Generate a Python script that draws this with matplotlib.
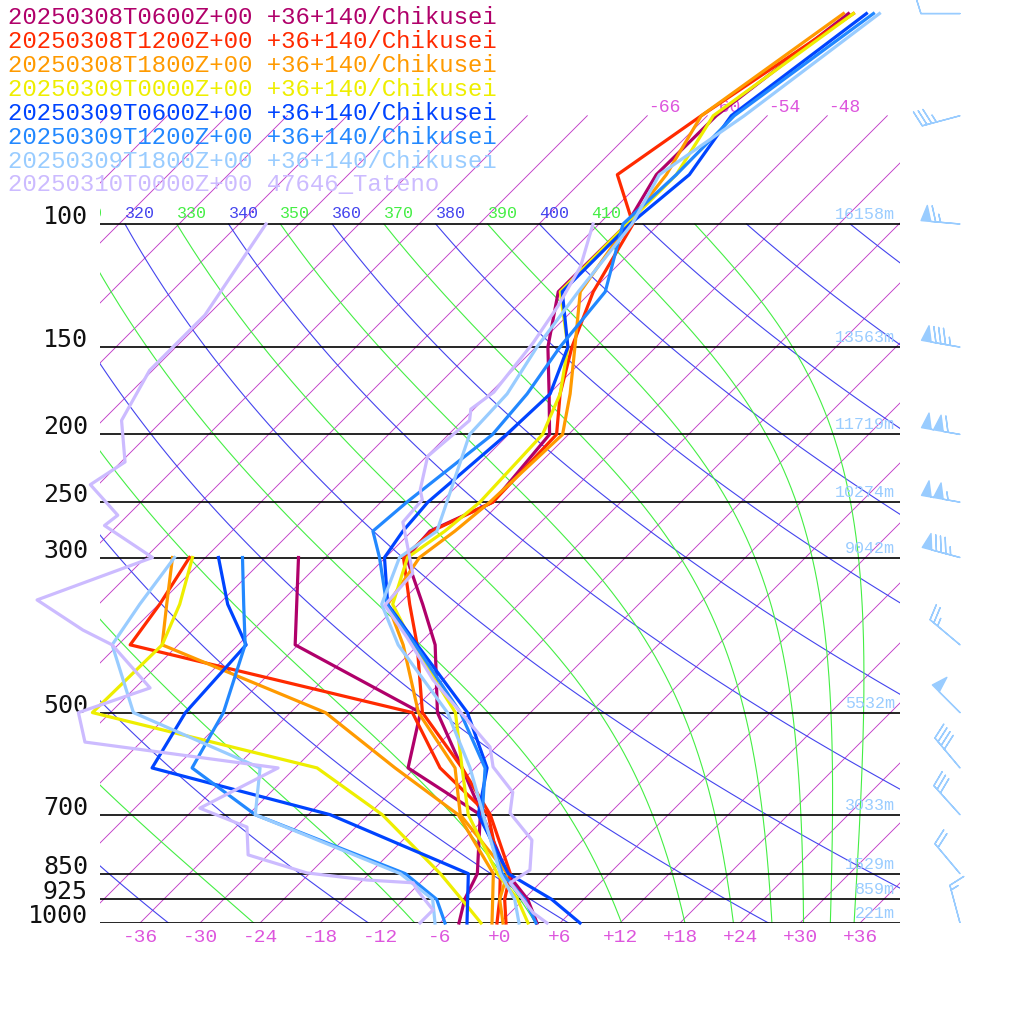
import numpy as np
import matplotlib
matplotlib.use('Agg')
import matplotlib.pyplot as plt

# ---------------- data ----------------
P_T = [1000, 925, 850, 700, 600, 500, 400, 350, 300, 275, 250, 200, 175, 150, 125, 100, 85, 70, 50]
T_0308_06 = [3.7, 0.4, -4.2, -12.6, -19.3, -27.3, -34.3, -39.6, -45.9, -46.2, -42.8, -43.9, -48.0, -52.8, -57.3, -57.2, -59.2, -59.1, -56.1]
T_0308_12 = [0.6, -1.9, -3.9, -11.8, -19.3, -28.8, -36.1, -40.9, -46.2, -46.0, -42.8, -43.2, -46.9, -50.4, -53.8, -56.6, -63.1, -60.6, -55.6]
T_0308_18 = [0.3, -2.4, -4.2, -14.8, -20.0, -29.2, -37.5, -43.1, -44.6, -43.7, -43.1, -42.6, -45.9, -50.1, -55.1, -57.1, -58.2, -60.6, -56.6]
T_0309_00 = [2.8, -0.6, -5.2, -14.0, -19.3, -25.5, -36.5, -42.6, -45.8, -44.7, -44.1, -44.6, -46.9, -50.8, -57.1, -57.2, -57.2, -59.4, -55.6]
T_0309_06 = [8.0, 2.8, -4.1, -13.0, -16.8, -24.3, -36.1, -43.1, -48.1, -48.9, -49.3, -48.2, -47.9, -50.8, -56.9, -56.9, -55.9, -57.6, -54.3]
T_0309_12 = [3.6, 0.1, -4.7, -12.6, -17.0, -25.0, -36.3, -43.2, -48.6, -51.9, -51.4, -49.6, -50.2, -51.6, -52.6, -57.6, -57.2, -57.3, -53.6]
T_0309_18 = [1.9, -0.9, -4.9, -12.5, -18.5, -26.3, -38.0, -43.7, -46.6, -45.5, -47.4, -51.9, -52.2, -53.9, -55.3, -56.7, -58.9, -56.3, -53.0]

P_D = [1000, 925, 850, 700, 600, 500, 400, 350, 300]
D_0308_06 = [-4.1, -5.9, -7.2, -12.8, -24.7, -29.0, -48.3, -52.2, -56.7]
D_0308_12 = [-0.3, -2.4, -4.9, -12.0, -21.5, -29.8, -64.8, -65.9, -67.6]
D_0308_18 = [-0.8, -3.1, -5.6, -15.0, -26.0, -38.5, -61.6, -65.2, -69.3]
D_0309_00 = [-1.9, -6.2, -10.9, -22.6, -33.8, -61.8, -61.6, -63.9, -67.3]
D_0309_06 = [-3.3, -5.6, -8.1, -27.8, -50.3, -52.5, -53.2, -59.1, -64.7]
D_0309_12 = [-5.5, -8.7, -14.4, -35.3, -46.3, -48.7, -53.3, -57.5, -62.3]
D_0309_18 = [-6.5, -9.1, -14.9, -35.3, -39.5, -57.7, -66.6, -67.9, -69.1]

P_TAT_T = [1000, 967, 876, 840, 761, 696, 650, 598, 560, 449, 390, 351, 316, 267, 248, 240, 215, 191, 184, 174, 148, 131, 115, 100]
T_TAT = [4.7, 2.3, -3.0, -2.3, -5.1, -10.0, -11.8, -16.3, -18.6, -31.0, -37.9, -43.3, -43.7, -49.8, -50.1, -51.3, -53.9, -53.3, -54.3, -53.7, -54.7, -55.9, -57.6, -60.6]
P_TAT_D = [1000, 958, 897, 876, 868, 848, 799, 729, 685, 600, 551, 500, 461, 400, 381, 345, 300, 270, 261, 236, 219, 191, 162, 135, 100]
D_TAT = [-8.0, -8.0, -11.6, -12.7, -17.6, -24.3, -32.0, -34.9, -41.5, -37.7, -59.6, -63.2, -58.5, -66.6, -71.0, -78.6, -71.3, -79.3, -79.0, -84.8, -83.6, -88.1, -90.3, -90.3, -93.3]

LABELS = ["20250308T0600Z+00 +36+140/Chikusei", "20250308T1200Z+00 +36+140/Chikusei",
          "20250308T1800Z+00 +36+140/Chikusei", "20250309T0000Z+00 +36+140/Chikusei",
          "20250309T0600Z+00 +36+140/Chikusei", "20250309T1200Z+00 +36+140/Chikusei",
          "20250309T1800Z+00 +36+140/Chikusei", "20250310T0000Z+00 47646_Tateno"]
COLORS = ['#b0006a', '#ff2a00', '#ff9a00', '#eeee00', '#0044ff', '#2288ff', '#99ccff', '#ccbbff']

P_W = [1000, 850, 700, 600, 500, 400, 300, 250, 200, 150, 100, 70, 50]
WDIR = [345, 320, 318, 320, 315, 310, 285, 280, 280, 280, 275, 255, 270]
WSPD = [15, 20, 30, 40, 50, 25, 85, 105, 110, 85, 65, 35, 10]

HGT_P = [100, 150, 200, 250, 300, 500, 700, 850, 925, 1000]
HGT = [16158, 13563, 11719, 10274, 9042, 5532, 3033, 1529, 859, 221]

# ---------------- geometry ----------------
K = 69.9
PTOP = 1000 * 10 ** (-923 / 699)
MONO = 'Liberation Mono'


def skew(T, p):
    return np.asarray(T, float) + K * np.log10(1000.0 / np.asarray(p, float))


fig = plt.figure(figsize=(10.24, 10.24), dpi=100)
ax = fig.add_axes([100 / 1024, 101 / 1024, 800 / 1024, 923 / 1024])
ax.set_yscale('log')
ax.set_ylim(1000, PTOP)
ax.set_xlim(-40, 40)
ax.axis('off')

# isotherms
for T in np.arange(-120, 41, 6):
    pp = np.array([1000.0, 70.0])
    ax.plot(skew([T, T], pp), pp, color='#c03cc8', lw=0.65, zorder=1)
    if -66 <= T <= -48:
        ax.annotate(f'{T:d}', (skew(T, 70), 70), xytext=(1, 0), textcoords='offset pixels',
                    ha='left', va='bottom', color='#dd55dd', fontsize=13, family=MONO, zorder=1)

# dry adiabats
pp = np.geomspace(1000, 100, 120)
for th in range(200, 481, 20):
    T = th * (pp / 1000) ** 0.2857 - 273.15
    ax.plot(skew(T, pp), pp, color='#4444ee', lw=0.8, zorder=1)
    if 320 <= th <= 400:
        ax.annotate(str(th), (skew(T[-1], 100), 100), xytext=(0, 3), textcoords='offset pixels',
                    ha='left', va='bottom', color='#4444ee', fontsize=12, family=MONO,
                    annotation_clip=False, clip_on=True)


# moist adiabats
def mlapse(T, p):
    Tc = T - 273.15
    es = 6.112 * np.exp(17.67 * Tc / (Tc + 243.5))
    rs = 0.622 * es / (p - es)
    Rd, Cp, L = 287.04, 1005.7, 2.501e6
    return (Rd * T + L * rs) / ((Cp + L * L * rs * 0.622 / (Rd * T * T)) * p)


thetas = np.arange(250, 431, 20)
ps = np.linspace(100, 1000, 901)
Tm = np.zeros((len(ps), len(thetas)))
Tcur = thetas * 0.1 ** 0.2857
Tm[0] = Tcur
for i in range(1, len(ps)):
    dp = ps[i] - ps[i - 1]
    k1 = mlapse(Tcur, ps[i - 1])
    k2 = mlapse(Tcur + k1 * dp, ps[i])
    Tcur = Tcur + 0.5 * (k1 + k2) * dp
    Tm[i] = Tcur
for j, th in enumerate(thetas):
    ax.plot(skew(Tm[:, j] - 273.15, ps), ps, color='#44ee44', lw=0.8, zorder=1)
    if 310 <= th <= 410:
        ax.annotate(str(th), (skew(Tm[0, j] - 273.15, 100), 100), xytext=(0, 3), textcoords='offset pixels',
                    ha='left', va='bottom', color='#44ee44', fontsize=12, family=MONO,
                    annotation_clip=False, clip_on=True)

# pressure lines
for p in [100, 150, 200, 250, 300, 500, 700, 850, 925, 1000]:
    ax.plot([-40, 40], [p, p], color='black', lw=1.2, zorder=3)
    ax.text(-41.2, p, str(p), ha='right', va='baseline', fontsize=18, family='DejaVu Sans Mono',
            color='#111111', clip_on=False)
for p, h in zip(HGT_P, HGT):
    ax.annotate(f'{h}m', (39.5, p), xytext=(0, 2), textcoords='offset pixels', ha='right', va='bottom',
                color='#99ccff', fontsize=12, family=MONO, zorder=4)

# bottom temperature labels
for T in range(-36, 37, 6):
    lab = f'{T:+d}' if T >= 0 else f'{T:d}'
    ax.annotate(lab, (T, 1000), xytext=(0, -14), textcoords='offset pixels', ha='center', va='center',
                color='#dd55dd', fontsize=14, family=MONO, annotation_clip=False)

# profiles
temps = [T_0308_06, T_0308_12, T_0308_18, T_0309_00, T_0309_06, T_0309_12, T_0309_18]
dews = [D_0308_06, D_0308_12, D_0308_18, D_0309_00, D_0309_06, D_0309_12, D_0309_18]
for T, D, c in zip(temps, dews, COLORS):
    ax.plot(skew(T, P_T), P_T, color=c, lw=2.3, zorder=5, clip_on=False)
    ax.plot(skew(D, P_D), P_D, color=c, lw=2.3, zorder=5, clip_on=False)
ax.plot(skew(T_TAT, P_TAT_T), P_TAT_T, color=COLORS[7], lw=2.3, zorder=5, clip_on=False)
ax.plot(skew(D_TAT, P_TAT_D), P_TAT_D, color=COLORS[7], lw=2.3, zorder=5, clip_on=False)

# legend text
for i, (lab, c) in enumerate(zip(LABELS, COLORS)):
    fig.text(8 / 1024, 1 - (17 + 24 * i) / 1024, lab, color=c, fontsize=17.3, family=MONO,
             ha='left', va='center', zorder=10)

# wind barbs
bax = fig.add_axes([900 / 1024, 101 / 1024, 124 / 1024, 923 / 1024])
bax.set_yscale('log')
bax.set_ylim(1000, PTOP)
bax.set_xlim(0, 124)
bax.axis('off')
wd = np.radians(WDIR)
u = -np.array(WSPD) * np.sin(wd)
v = -np.array(WSPD) * np.cos(wd)
bax.barbs(np.full(len(P_W), 60.0), P_W, u, v, length=7.5, color='#99ccff', linewidth=1.0)

fig.savefig('out.png', dpi=100)
